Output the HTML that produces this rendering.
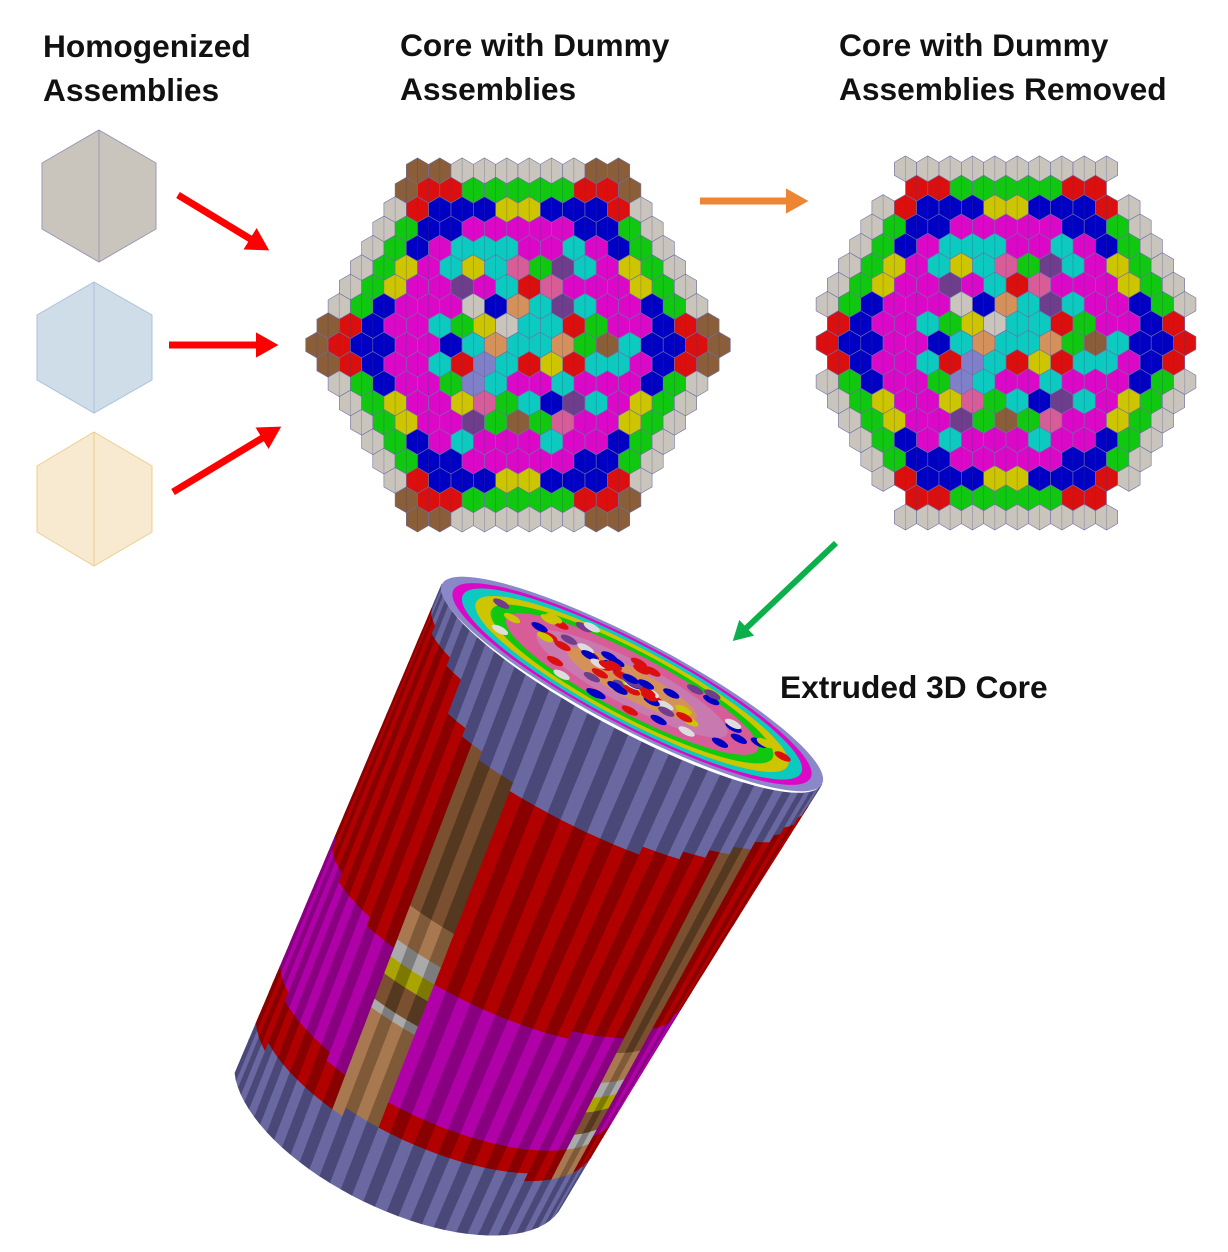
<!DOCTYPE html>
<html><head><meta charset="utf-8">
<style>
html,body{margin:0;padding:0;background:#fff;}
body{width:1228px;height:1252px;position:relative;overflow:hidden;font-family:"Liberation Sans",sans-serif;}
.t{position:absolute;font-weight:bold;font-size:31.7px;line-height:44px;color:#111;white-space:nowrap;}
svg{position:absolute;left:0;top:0;}
</style></head>
<body>
<div class="t" style="left:43px;top:24px;">Homogenized<br>Assemblies</div>
<div class="t" style="left:400px;top:23px;">Core with Dummy<br>Assemblies</div>
<div class="t" style="left:839px;top:23px;">Core with Dummy<br>Assemblies Removed</div>
<div class="t" style="left:780px;top:665px;">Extruded 3D Core</div>

<svg id="s" width="1228" height="1252" viewBox="0 0 1228 1252">
<defs>
<marker id="ar" markerWidth="4" markerHeight="4" refX="2" refY="2" orient="auto" markerUnits="strokeWidth"><path d="M0,0.2 L3.2,2 L0,3.8 z" fill="context-stroke"/></marker>
</defs>
<g>
<polygon points="99,130 156,163 156,229 99,262 42,229 42,163" fill="#c9c4bc" stroke="#9a98b8" stroke-width="1"/>
<line x1="99" y1="130" x2="99" y2="262" stroke="#9a98b8"/></g>
<g>
<polygon points="94,282 152,315 152,380 94,413 37,380 37,315" fill="#cfdde9" stroke="#a9c2dc" stroke-width="1"/>
<line x1="94" y1="282" x2="94" y2="413" stroke="#a9c2dc"/></g>
<g>
<polygon points="94,432 152,466 152,532 94,566 37,532 37,466" fill="#f7ead0" stroke="#eccf8c" stroke-width="1"/>
<line x1="94" y1="432" x2="94" y2="566" stroke="#eccf8c"/></g>

<g id="arrows">
<line x1="178" y1="195" x2="262" y2="246" stroke="#f00" stroke-width="7" marker-end="url(#ar)"/>
<line x1="169" y1="345" x2="270" y2="345" stroke="#f00" stroke-width="7" marker-end="url(#ar)"/>
<line x1="173" y1="492" x2="274" y2="431" stroke="#f00" stroke-width="7" marker-end="url(#ar)"/>
<line x1="700" y1="201" x2="800" y2="201" stroke="#ee8533" stroke-width="7" marker-end="url(#ar)"/>
<line x1="836" y1="543" x2="738" y2="636" stroke="#0bb04a" stroke-width="6" marker-end="url(#ar)"/>
</g>
<g id="core1"></g>
<g id="core2"></g>
<g id="cyl"></g>
</svg>
<script>
const NS="http://www.w3.org/2000/svg";
const C={grey:"#c9c5bd",brown:"#8a5e38",red:"#dc0f0f",green:"#0fc80f",blue:"#0000c4",yellow:"#cdc500",mag:"#dc08c8",cyan:"#0ccac0",pink:"#d85c98",purple:"#6e3e8c",lav:"#8080c8",tan:"#d4925a"};
const inner=["cyan","mag","cyan","pink","blue","purple","brown","red","lav","yellow","tan","grey","green","mag","cyan"];
function hsh(q,r){let h=(q*73856093)^(r*19349663);h=(h^(h>>>13))*1274126177;return Math.abs(h^(h>>>16));}
function hexDist(a,b,c,d){const dq=a-c,dr=b-d;return Math.max(Math.abs(dq),Math.abs(dr),Math.abs(dq+dr));}
function cellColor(q,r,R){
  const d=Math.max(Math.abs(q),Math.abs(r),Math.abs(q+r));
  const corners=[[d,0],[0,d],[-d,d],[-d,0],[0,-d],[d,-d]];
  let cd=99;corners.forEach(c=>{cd=Math.min(cd,hexDist(q,r,c[0],c[1]));});
  if(d===9)return cd<=1?"brown":"grey";
  if(d===8)return cd<=1?"red":"green";
  if(d===7)return cd<=2?"blue":"yellow";
  if(d===6)return cd===0?"blue":"mag";
  if(d===5)return (hsh(q,r)%5===0)?"cyan":"mag";
  return inner[hsh(q,r)%inner.length];
}
function drawGrid(gid,cx,cy,removeDummy){
  const g=document.getElementById(gid);
  const s=12.9,w=Math.sqrt(3)*s,R=9;
  for(let r=-R;r<=R;r++)for(let q=-R;q<=R;q++){
    if(Math.abs(q+r)>R)continue;
    const d=Math.max(Math.abs(q),Math.abs(r),Math.abs(q+r));
    let col=cellColor(q,r,R);
    if(removeDummy&&d===9&&col==="brown"){ if(Math.abs(r)===R) col="grey"; else continue; }
    const x=cx+w*(q+r/2),y=cy+1.5*s*r;
    let pts=[];for(let k=0;k<6;k++){const a=Math.PI/180*(60*k-90);pts.push((x+s*Math.cos(a)).toFixed(1)+","+(y+s*Math.sin(a)).toFixed(1));}
    const p=document.createElementNS(NS,"polygon");
    
    
    p.setAttribute("points",pts.join(" "));p.setAttribute("fill",C[col]);
    p.setAttribute("stroke","#6f6fa6");p.setAttribute("stroke-width","0.6");
    g.appendChild(p);
    const l=document.createElementNS(NS,"line");
    
    
    l.setAttribute("x1",x);l.setAttribute("x2",x);l.setAttribute("y1",y-s);l.setAttribute("y2",y+s);
    l.setAttribute("stroke","rgba(60,60,120,0.35)");l.setAttribute("stroke-width","0.7");g.appendChild(l);
  }
}
drawGrid("core1",518,345,false);
drawGrid("core2",1006,343,true);

// cylinder
const cyl=document.getElementById("cyl");
const C0=[632,684],C1=[400,1128];
const U0=[190,100],U1=[165,55],V0=[-18,44],V1=[10,92];
function P(th,t){
  const u=[U0[0]+(U1[0]-U0[0])*t,U0[1]+(U1[1]-U0[1])*t];
  const v=[V0[0]+(V1[0]-V0[0])*t,V0[1]+(V1[1]-V0[1])*t];
  const c=[C0[0]+(C1[0]-C0[0])*t,C0[1]+(C1[1]-C0[1])*t];
  return [c[0]+u[0]*Math.cos(th)+v[0]*Math.sin(th),c[1]+u[1]*Math.cos(th)+v[1]*Math.sin(th)];
}
const base={slate:["#6a68a0","#4a4878"],red:["#b00000","#880000"],mag:["#b000a8","#880080"],brown:["#7a5030","#553820"],tan:["#a87850","#7f5a38"],lgrey:["#aaaaaa","#7c7c7c"],olive:["#aaa400","#7c7800"]};
function colAt(th,t){
  const fuelA=(th>1.95&&th<2.2),fuelB=(th>0.55&&th<0.8);
  const topEnd=0.04+0.16*Math.sin(th)*(th<2.4?1:0.4);
  const b=0.1*Math.sin(th);
  if(t<topEnd)return "slate";
  if(t>0.9-b*0.3)return "slate";
  if(fuelA||fuelB){
    const o=fuelA?0:0.12;
    if(t<0.48+o)return "brown";
    if(t<0.55+o)return "tan";
    if(t<0.58+o)return "lgrey";
    if(t<0.62+o)return "olive";
    if(t<0.66+o)return "brown";
    if(t<0.69+o)return "lgrey";
    return "tan";
  }
  if(t<0.52+b*0.6)return "red";
  if(t<0.78+b*0.4)return "mag";
  return "red";
}
const N=44,M=60;
for(let i=0;i<N;i++){
  const th0=Math.PI*i/N,th1=Math.PI*(i+1)/N,tm=(th0+th1)/2;
  for(let j=0;j<M;j++){
    const t0=j/M,t1=(j+1)/M;
    const c=base[colAt(tm,(t0+t1)/2)][i%2];
    const pts=[P(th0,t0),P(th1,t0),P(th1,t1),P(th0,t1)];
    const p=document.createElementNS(NS,"polygon");
    
    
    p.setAttribute("points",pts.map(a=>a[0].toFixed(1)+","+a[1].toFixed(1)).join(" "));
    p.setAttribute("fill",c);p.setAttribute("stroke",c);p.setAttribute("stroke-width","0.8");
    cyl.appendChild(p);
  }
}
// top face rings
const ang=Math.atan2(U0[1],U0[0])*180/Math.PI,rx=Math.hypot(U0[0],U0[1]),ry=44;
const rings=[[1,"#8a88c8"],[0.94,"#dc08c8"],[0.89,"#0ccac0"],[0.82,"#cdc500"],[0.74,"#0fc80f"],[0.66,"#d85c98"],[0.5,"#c87ab0"],[0.34,"#d4925a"]];
rings.forEach(r=>{
  const e=document.createElementNS(NS,"ellipse");
  
  
  e.setAttribute("cx",C0[0]);e.setAttribute("cy",C0[1]);e.setAttribute("rx",rx*r[0]);e.setAttribute("ry",ry*r[0]);
  e.setAttribute("transform","rotate("+ang+" "+C0[0]+" "+C0[1]+")");e.setAttribute("fill",r[1]);
  cyl.appendChild(e);
});
const dots=["#0000c4","#dc0f0f","#ddd","#6e3e8c","#0000c4","#cdc500","#dc0f0f"];
for(let i=0;i<70;i++){
  const h=hsh(i,7),a=(h%360)*Math.PI/180,rr=((h>>9)%80)/100;
  const lx=Math.cos(a)*rr*rx,ly=Math.sin(a)*rr*ry,ca=Math.cos(ang*Math.PI/180),sa=Math.sin(ang*Math.PI/180);
  const e=document.createElementNS(NS,"ellipse");
  
  
  e.setAttribute("cx",C0[0]+lx*ca-ly*sa);e.setAttribute("cy",C0[1]+lx*sa+ly*ca);e.setAttribute("rx",9);e.setAttribute("ry",3.5);
  e.setAttribute("transform","rotate("+ang+" "+(C0[0]+lx*ca-ly*sa)+" "+(C0[1]+lx*sa+ly*ca)+")");
  e.setAttribute("fill",dots[i%dots.length]);cyl.appendChild(e);
}
</script>
</body></html>
